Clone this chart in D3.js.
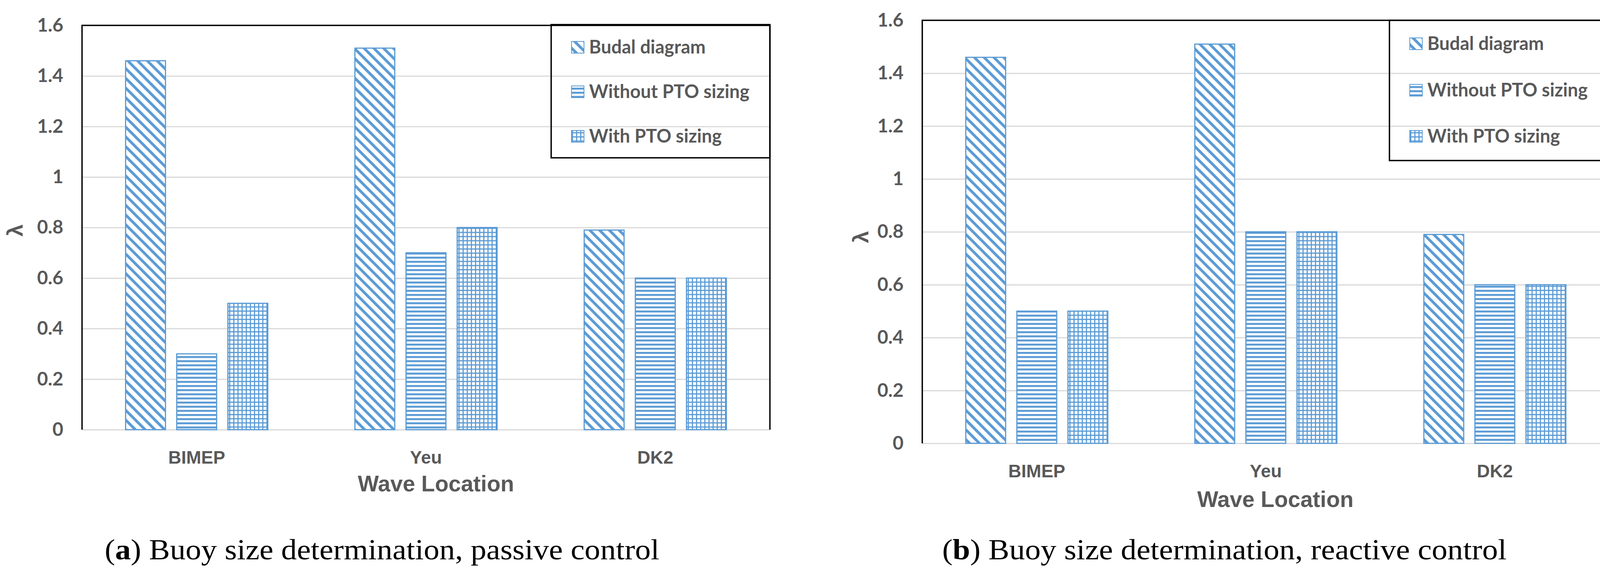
<!DOCTYPE html>
<html>
<head>
<meta charset="utf-8">
<script src="https://cdn.jsdelivr.net/npm/d3@7"></script>
<style>
  body { margin: 0; background: #fff; }
</style>
</head>
<body>
<script>
// data
var categories = ["BIMEP", "Yeu", "DK2"];
var seriesNames = ["Budal diagram", "Without PTO sizing", "With PTO sizing"];

var passiveBudal = [1.46, 1.51, 0.79];
var passiveWithout = [0.30, 0.70, 0.60];
var passiveWith = [0.50, 0.80, 0.60];

var reactiveBudal = [1.46, 1.51, 0.79];
var reactiveWithout = [0.50, 0.80, 0.60];
var reactiveWith = [0.50, 0.80, 0.60];

var yTicks = [0, 0.2, 0.4, 0.6, 0.8, 1, 1.2, 1.4, 1.6];
var yTickLabels = ["0", "0.2", "0.4", "0.6", "0.8", "1", "1.2", "1.4", "1.6"];

var xTitle = "Wave Location";
var yTitle = "\u03bb";
var captionA = ["(", "a", ") Buoy size determination, passive control"];
var captionB = ["(", "b", ") Buoy size determination, reactive control"];

var W = 4135, H = 1467;
var blue = "#5B9BD5", grey = "#595959", gridGrey = "#D9D9D9";

var svg = d3.select("body").append("svg")
  .attr("width", W)
  .attr("height", H)
  .style("background", "#fff");

// hatch fills
var defs = svg.append("defs");
var pDiag = defs.append("pattern").attr("id", "pDiag")
  .attr("patternUnits", "userSpaceOnUse").attr("width", 25).attr("height", 25);
pDiag.append("rect").attr("width", 25).attr("height", 25).attr("fill", "#fff");
pDiag.append("path").attr("d", "M-6,-6L31,31M-6,19L6,31M19,-6L31,6")
  .attr("stroke", blue).attr("stroke-width", 7);

var pHoriz = defs.append("pattern").attr("id", "pHoriz")
  .attr("patternUnits", "userSpaceOnUse").attr("width", 10.6).attr("height", 10.6);
pHoriz.append("rect").attr("width", 10.6).attr("height", 10.6).attr("fill", "#fff");
pHoriz.append("rect").attr("width", 10.6).attr("height", 5).attr("fill", blue);

var pGrid = defs.append("pattern").attr("id", "pGrid")
  .attr("patternUnits", "userSpaceOnUse").attr("width", 10.6).attr("height", 10.6);
pGrid.append("rect").attr("width", 10.6).attr("height", 10.6).attr("fill", "#fff");
pGrid.append("rect").attr("width", 10.6).attr("height", 3).attr("fill", blue);
pGrid.append("rect").attr("width", 3).attr("height", 10.6).attr("fill", blue);

var fills = ["url(#pDiag)", "url(#pHoriz)", "url(#pGrid)"];

var panels = [
  {
    series: [passiveBudal, passiveWithout, passiveWith],
    left: 210, right: 1971, yTop: 65, y0: 1100,
    xTitleX: 1116, xTitleY: 1258,
    yTitleX: 58, yTitleY: 590,
    legend: { x: 1411, y: 63, w: 560, h: 341, rows: [121, 235, 349] },
    caption: captionA, capX: 268, capY: 1432, capW: 1420
  },
  {
    series: [reactiveBudal, reactiveWithout, reactiveWith],
    left: 2361, right: 4120, yTop: 52, y0: 1135,
    xTitleX: 3265, xTitleY: 1298,
    yTitleX: 2223, yTitleY: 607,
    legend: { x: 3557, y: 52, w: 563, h: 359, rows: [112, 231, 349] },
    caption: captionB, capX: 2412, capY: 1432, capW: 1445
  }
];

function drawPanel(p) {
  var g = svg.append("g");

  var x0 = d3.scaleBand().domain(categories)
    .range([p.left, p.right]).paddingInner(0.38).paddingOuter(0.19);
  var x1 = d3.scaleBand().domain(seriesNames)
    .range([0, x0.bandwidth()]).paddingInner(0.22);
  var y = d3.scaleLinear().domain([0, 1.6]).range([p.y0, p.yTop]);

  // gridlines
  var grid = g.append("g")
    .attr("transform", "translate(" + p.left + ",0)")
    .call(d3.axisLeft(y).tickValues(yTicks.slice(0, -1))
      .tickSize(-(p.right - p.left)).tickFormat(""));
  grid.select(".domain").remove();
  grid.selectAll("line").attr("stroke", gridGrey).attr("stroke-width", 3);

  // y tick labels
  var yAxis = g.append("g")
    .attr("transform", "translate(" + p.left + ",0)")
    .call(d3.axisLeft(y).tickValues(yTicks)
      .tickFormat(function(d, i) { return yTickLabels[i]; })
      .tickSize(0).tickPadding(48));
  yAxis.select(".domain").remove();
  yAxis.selectAll("text")
    .attr("fill", grey)
    .style("font-family", "Lato, 'Noto Sans', sans-serif")
    .style("font-weight", "bold")
    .style("font-size", "48px");

  // category labels
  var xAxis = g.append("g")
    .attr("transform", "translate(0," + p.y0 + ")")
    .call(d3.axisBottom(x0).tickSize(0).tickPadding(54));
  xAxis.select(".domain").remove();
  xAxis.selectAll("text")
    .attr("fill", grey)
    .style("font-family", "'Liberation Sans', Arial, sans-serif")
    .style("font-weight", "bold")
    .style("font-size", "46px");

  // bars
  var groups = g.selectAll(".cat")
    .data(categories)
    .enter().append("g")
    .attr("transform", function(c) { return "translate(" + x0(c) + ",0)"; });

  groups.selectAll("rect")
    .data(function(c, ci) {
      return seriesNames.map(function(s, si) {
        return { name: s, idx: si, value: p.series[si][ci] };
      });
    })
    .enter().append("rect")
    .attr("x", function(d) { return x1(d.name); })
    .attr("y", function(d) { return y(d.value); })
    .attr("width", x1.bandwidth())
    .attr("height", function(d) { return y(0) - y(d.value); })
    .attr("fill", function(d) { return fills[d.idx]; })
    .attr("stroke", blue)
    .attr("stroke-width", 3);

  // plot border: left, top, right
  g.append("path")
    .attr("d", "M" + p.left + "," + p.y0 + "V" + p.yTop + "H" + p.right + "V" + p.y0)
    .attr("fill", "none")
    .attr("stroke", "#000")
    .attr("stroke-width", 3.5);

  // axis titles
  g.append("text")
    .attr("x", p.xTitleX).attr("y", p.xTitleY)
    .attr("text-anchor", "middle")
    .attr("fill", grey)
    .style("font-family", "'Liberation Sans', Arial, sans-serif")
    .style("font-weight", "bold")
    .style("font-size", "57px")
    .text(xTitle);

  g.append("text")
    .attr("transform", "translate(" + p.yTitleX + "," + p.yTitleY + ") rotate(-90)")
    .attr("text-anchor", "middle")
    .attr("fill", grey)
    .style("font-family", "'Liberation Sans', Arial, sans-serif")
    .style("font-weight", "bold")
    .style("font-size", "56px")
    .text(yTitle);

  // legend
  var lg = p.legend;
  g.append("rect")
    .attr("x", lg.x).attr("y", lg.y)
    .attr("width", lg.w).attr("height", lg.h)
    .attr("fill", "none")
    .attr("stroke", "#000")
    .attr("stroke-width", 3.5);

  var items = g.selectAll(".leg")
    .data(seriesNames)
    .enter().append("g")
    .attr("transform", function(d, i) { return "translate(" + lg.x + "," + lg.rows[i] + ")"; });

  items.append("rect")
    .attr("x", 52).attr("y", -15)
    .attr("width", 32).attr("height", 30)
    .attr("fill", function(d, i) { return fills[i]; })
    .attr("stroke", blue)
    .attr("stroke-width", 2);

  items.append("text")
    .attr("x", 97).attr("y", 16)
    .attr("fill", grey)
    .style("font-family", "Lato, 'Noto Sans', sans-serif")
    .style("font-weight", "bold")
    .style("font-size", "47px")
    .text(function(d) { return d; });

  // caption
  var cap = svg.append("text")
    .attr("x", p.capX).attr("y", p.capY)
    .attr("textLength", p.capW)
    .attr("lengthAdjust", "spacingAndGlyphs")
    .attr("fill", "#000")
    .style("font-family", "'Liberation Serif', 'DejaVu Serif', serif")
    .style("font-size", "75px");
  cap.append("tspan").text(p.caption[0]);
  cap.append("tspan").style("font-weight", "bold").text(p.caption[1]);
  cap.append("tspan").text(p.caption[2]);
}

panels.forEach(drawPanel);
</script>
</body>
</html>
